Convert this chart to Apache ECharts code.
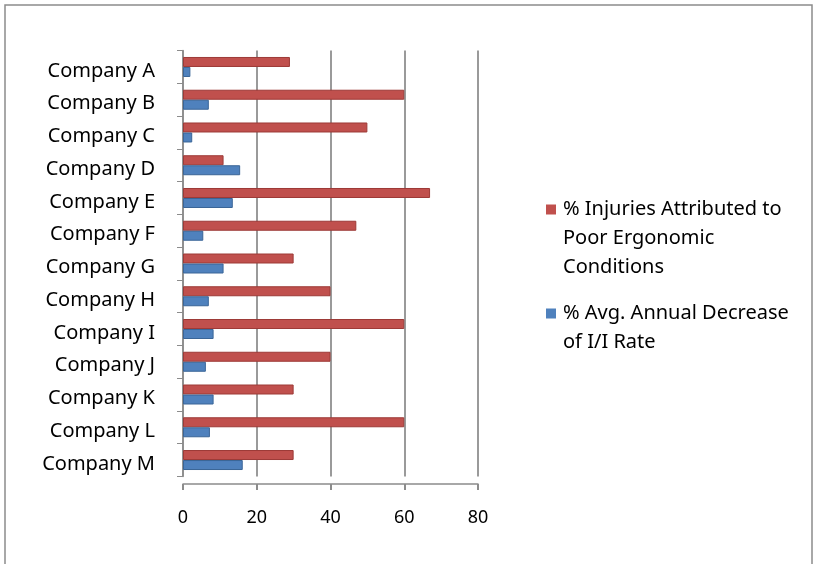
<!DOCTYPE html>
<html><head><meta charset="utf-8">
<script src="https://cdn.jsdelivr.net/npm/echarts@6/dist/echarts.min.js"></script>
<style>html,body{margin:0;padding:0;background:#fff}#c{width:817px;height:564px}</style>
</head><body><div id="c"></div>
<script>
const categories = ["Company A","Company B","Company C","Company D","Company E","Company F","Company G","Company H","Company I","Company J","Company K","Company L","Company M"];
const injuries = [29,60,50,11,67,47,30,40,60,40,30,60,30];
const decrease = [2,7,2.5,15.5,13.5,5.5,11,7,8.3,6.2,8.3,7.3,16.2];
const xTicks = [0,20,40,60,80];
const seriesNames = ["% Injuries Attributed to Poor Ergonomic Conditions","% Avg. Annual Decrease of I/I Rate"];
const seriesColors = ["#C0504D","#4F81BD"];
const legendLines = {};
legendLines[seriesNames[0]] = ["% Injuries Attributed to","Poor Ergonomic","Conditions"];
legendLines[seriesNames[1]] = ["% Avg. Annual Decrease","of I/I Rate"];

const chart = echarts.init(document.getElementById('c'));
chart.setOption({
  animation:false,
  textStyle:{fontFamily:"Noto Sans"},
  graphic:[{type:'rect',shape:{x:5,y:5,width:807,height:570},style:{fill:'none',stroke:'#8c8c8c',lineWidth:1.5},silent:true}],
  grid:{left:183,right:339,top:50.6,bottom:87.6},
  legend:{orient:'vertical',left:536,top:190,itemWidth:0,itemHeight:10,itemGap:17,icon:'none',
    formatter:n=>{
      const idx = seriesNames.indexOf(n);
      const lines = legendLines[n];
      return '{i'+idx+'|}{t|'+lines[0]+'}' + lines.slice(1).map(l=>'\n{u|'+l+'}').join('');
    },
    textStyle:{fontSize:20,color:'#000',lineHeight:29,fontFamily:"Noto Sans",
      rich:{
        i0:{width:10,height:10,backgroundColor:seriesColors[0]},
        i1:{width:10,height:10,backgroundColor:seriesColors[1]},
        t:{fontSize:20,color:'#000',lineHeight:29,padding:[0,0,0,7]},
        u:{fontSize:20,color:'#000',lineHeight:29,padding:[0,0,0,17]}
      }},
    data:seriesNames},
  xAxis:{type:'value',min:xTicks[0],max:xTicks[xTicks.length-1],interval:20,offset:7.6,
    axisLine:{show:true,lineStyle:{color:'#8c8c8c',width:1.5}},
    axisTick:{show:true,length:6,lineStyle:{color:'#8c8c8c',width:2}},
    axisLabel:{color:'#000',fontSize:18,margin:25},
    splitLine:{show:true,lineStyle:{color:'#9a9a9a',width:2}}},
  yAxis:{type:'category',data:categories,inverse:true,
    axisLine:{show:true,lineStyle:{color:'#8c8c8c',width:1.5}},
    axisTick:{show:true,length:6,lineStyle:{color:'#8c8c8c'}},
    axisLabel:{color:'#000',fontSize:20,margin:28,
      formatter:v=>'{a|'+v+'}',
      rich:{a:{fontSize:20,color:'#000',padding:[8,0,0,0]}}}},
  series:[
    {name:seriesNames[0],type:'bar',data:injuries,barWidth:10,barGap:'0%',
     itemStyle:{color:seriesColors[0],borderColor:'#9d3a37',borderWidth:1}},
    {name:seriesNames[1],type:'bar',data:decrease,barWidth:10,barGap:'0%',
     itemStyle:{color:seriesColors[1],borderColor:'#3a6597',borderWidth:1}}
  ]
});
</script></body></html>
